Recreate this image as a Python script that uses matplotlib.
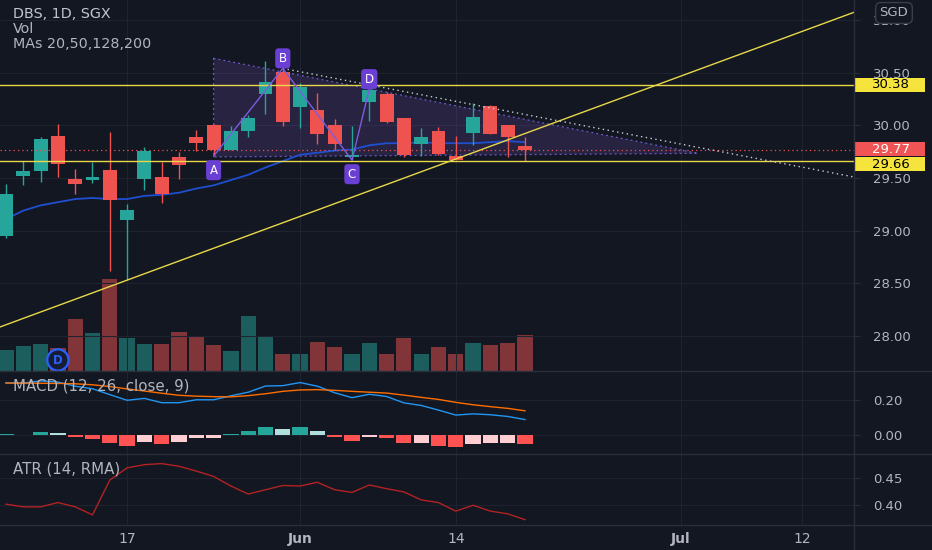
import matplotlib
matplotlib.use("Agg")
import matplotlib.pyplot as plt
from matplotlib.patches import Rectangle, Polygon
from matplotlib.lines import Line2D
from matplotlib.transforms import blended_transform_factory

# ---------------- data (bar index 0..30, daily) ----------------
opens = [28.95, 29.52, 29.57, 29.90, 29.49, 29.48, 29.58, 29.10, 29.49, 29.51,
         29.70, 29.89, 30.00, 29.77, 29.95, 30.30, 30.51, 30.17, 30.15, 30.00,
         29.70, 30.22, 30.30, 30.07, 29.82, 29.95, 29.71, 29.93, 30.18, 30.00, 29.80]
highs = [29.44, 29.66, 29.89, 30.01, 29.59, 29.65, 29.94, 29.25, 29.79, 29.65,
         29.75, 29.96, 30.01, 29.99, 30.10, 30.61, 30.54, 30.40, 30.31, 30.06,
         29.99, 30.34, 30.32, 30.07, 29.97, 29.98, 29.90, 30.21, 30.19, 30.00, 29.89]
lows = [28.93, 29.43, 29.46, 29.51, 29.35, 29.45, 28.62, 28.53, 29.39, 29.26,
        29.49, 29.76, 29.71, 29.77, 29.89, 30.11, 29.99, 29.97, 29.82, 29.77,
        29.67, 30.04, 30.02, 29.70, 29.71, 29.72, 29.67, 29.81, 29.92, 29.70, 29.66]
closes = [29.35, 29.57, 29.87, 29.63, 29.44, 29.51, 29.29, 29.20, 29.76, 29.35,
          29.62, 29.83, 29.77, 29.95, 30.07, 30.41, 30.03, 30.36, 29.92, 29.82,
          29.72, 30.34, 30.03, 29.72, 29.89, 29.73, 29.67, 30.08, 29.92, 29.89, 29.77]
volumes = [1.04, 1.21, 1.34, 1.14, 2.60, 1.90, 4.60, 1.65, 1.34, 1.34,
           1.93, 1.73, 1.29, 0.98, 2.72, 1.73, 0.84, 0.81, 1.43, 1.18,
           0.84, 1.40, 0.84, 1.63, 0.81, 1.16, 0.81, 1.38, 1.29, 1.40, 1.78]
ma20 = [29.11, 29.19, 29.24, 29.27, 29.30, 29.31, 29.30, 29.30, 29.33, 29.34,
        29.36, 29.40, 29.43, 29.48, 29.53, 29.60, 29.66, 29.72, 29.74, 29.76,
        29.77, 29.81, 29.83, 29.83, 29.84, 29.83, 29.83, 29.83, 29.84, 29.85, 29.84]
macd_line = [0.302, 0.300, 0.313, 0.306, 0.282, 0.267, 0.233, 0.200, 0.211, 0.186,
             0.186, 0.203, 0.203, 0.226, 0.247, 0.283, 0.285, 0.303, 0.282, 0.244,
             0.215, 0.235, 0.222, 0.185, 0.170, 0.143, 0.114, 0.121, 0.116, 0.106, 0.088]
signal_line = [0.300, 0.300, 0.299, 0.298, 0.296, 0.290, 0.280, 0.266, 0.254, 0.241,
               0.229, 0.224, 0.221, 0.220, 0.227, 0.238, 0.252, 0.260, 0.262, 0.258,
               0.252, 0.247, 0.242, 0.230, 0.217, 0.205, 0.188, 0.174, 0.163, 0.153, 0.139]
macd_hist = [0.002, 0.000, 0.014, 0.008, -0.014, -0.023, -0.047, -0.066, -0.043, -0.055,
             -0.043, -0.021, -0.018, 0.006, 0.020, 0.045, 0.033, 0.043, 0.020, -0.014,
             -0.039, -0.014, -0.020, -0.049, -0.049, -0.064, -0.074, -0.053, -0.049, -0.047, -0.053]
atr = [0.401, 0.396, 0.396, 0.404, 0.396, 0.381, 0.446, 0.469, 0.475, 0.477,
       0.472, 0.463, 0.453, 0.435, 0.420, 0.428, 0.436, 0.435, 0.442, 0.428,
       0.423, 0.437, 0.430, 0.424, 0.409, 0.404, 0.388, 0.399, 0.388, 0.383, 0.372]

date_tick_pos = [7, 17, 26, 39, 46]
date_tick_labels = ["17", "Jun", "14", "Jul", "12"]
price_ticks = [28.0, 28.5, 29.0, 29.5, 30.0, 30.5, 31.0]
macd_ticks = [0.0, 0.2]
atr_ticks = [0.40, 0.45]
level_lines = [30.38, 29.66]
last_price = 29.77
trend_up = [(7, 28.53), (26, 29.68)]
trend_down = [(16, 30.54), (49, 29.51)]
triangle = [(12, 30.636), (40, 29.734), (12, 29.70)]
abcd_labels = ["A", "B", "C", "D"]
abcd_x = [12, 16, 20, 21]
abcd_y = [29.707, 30.541, 29.669, 30.344]
abcd_side = [-1, 1, -1, 1]
div_bar = 3

# ---------------- style ----------------
BG = "#131722"
GRID = "#1f2330"
SEP = "#2a2e39"
TXT = "#b2b5be"
UP = "#26a69a"
DN = "#ef5350"
YEL = "#e8d84a"
PURP = "#7e57c2"

W, H = 932, 550
plt.rcParams['font.family'] = ['DejaVu Sans']
fig = plt.figure(figsize=(W / 100, H / 100), dpi=100, facecolor=BG)

AXR = 854.0
P_BOT, M_BOT, A_BOT = 370.7, 454.3, 525.0
PX_PER_PRICE = 105.3

def rect(top, bot):
    return [0, 1 - bot / H, AXR / W, (bot - top) / H]

XL = (-0.347, 49.02)

axv = fig.add_axes(rect(0, P_BOT), zorder=0)
ax = fig.add_axes(rect(0, P_BOT), zorder=1)
axm = fig.add_axes(rect(P_BOT, M_BOT), zorder=1)
axa = fig.add_axes(rect(M_BOT, A_BOT), zorder=1)

for a in (axv, ax, axm, axa):
    a.set_xlim(*XL)
    for s in a.spines.values():
        s.set_visible(False)
axv.set_facecolor(BG)
ax.set_facecolor("none")
axm.set_facecolor(BG)
axa.set_facecolor(BG)

# ---------------- volume ----------------
n = len(closes)
xs = list(range(n))
col = [UP if closes[i] >= opens[i] else DN for i in xs]
vcol = [(0.149, 0.651, 0.604, 0.5) if c == UP else (0.937, 0.325, 0.314, 0.5) for c in col]
axv.bar(xs, volumes, width=0.88, color=vcol, linewidth=0)
axv.set_ylim(0, P_BOT / 20.0)
axv.set_xticks([]); axv.set_yticks([])
axv.annotate("D", (div_bar, 0.535), ha="center", va="center", color="#2962ff",
             fontsize=8.5, fontweight="bold",
             bbox=dict(boxstyle="circle,pad=0.35", fc="#161c33", ec="#2962ff", lw=1.6))

# ---------------- price ----------------
ax.set_ylim(27.670, 31.190)
ax.set_xticks(date_tick_pos)
ax.set_xticklabels([])
ax.set_yticks(price_ticks)
ax.yaxis.tick_right()
ax.set_yticklabels([f"{t:.2f}" for t in price_ticks])
ax.tick_params(axis="y", colors=SEP, labelcolor=TXT, labelsize=9.5, length=4, pad=10)
ax.tick_params(axis="x", length=0)
ax.grid(True, color=GRID, lw=0.8)
ax.set_axisbelow(True)

# triangle pattern
ax.add_patch(Polygon(triangle, closed=True, fc=PURP, ec="none", alpha=0.2, zorder=1))
tx = [p[0] for p in triangle] + [triangle[0][0]]
ty = [p[1] for p in triangle] + [triangle[0][1]]
ax.plot(tx, ty, color="#6a5acd", lw=0.9, ls=(0, (1.5, 2.5)), zorder=1.5)

# MA
ax.plot(xs, ma20, color="#1f4fd1", lw=1.3, zorder=2)

# candles
for i in xs:
    ax.vlines(i, lows[i], highs[i], color=col[i], lw=1.0, zorder=3)
    lo = min(opens[i], closes[i])
    h = max(abs(closes[i] - opens[i]), 0.012)
    ax.bar(i, h, bottom=lo, width=0.8, color=col[i], linewidth=0, zorder=3)

# level lines + last price
for lv in level_lines:
    ax.axhline(lv, color=YEL, lw=1.0, zorder=4)
ax.axhline(last_price, color=DN, lw=0.9, ls=(0, (1, 2.5)), zorder=4)

# trend lines
ax.axline(trend_up[0], trend_up[1], color=YEL, lw=1.0, zorder=4)
ax.plot([trend_down[0][0], trend_down[1][0]], [trend_down[0][1], trend_down[1][1]],
        color="#c9ccd4", lw=1.0, ls=(0, (1, 2.5)), zorder=4)

# ABCD pattern
ax.plot(abcd_x, abcd_y, color="#7b5ce0", lw=1.0, zorder=5)
for lab, x, y, s in zip(abcd_labels, abcd_x, abcd_y, abcd_side):
    ax.annotate(lab, (x, y), xytext=(0, 10 if s > 0 else -14), textcoords="offset pixels",
                ha="center", va="center", color="white", fontsize=8.5, zorder=6,
                bbox=dict(boxstyle="round,pad=0.3,rounding_size=0.3", fc="#6a3fd4", ec="none"))

# price axis labels (boxes); TradingView nudges overlapping labels apart
trY = blended_transform_factory(ax.transAxes, ax.transData)
box_w = 71.0 / AXR
box_h = 14.0 / PX_PER_PRICE
for val, fc, tc, nudge_px in [(level_lines[0], "#f5e43c", "black", -0.5),
                              (last_price, "#f05455", "white", -0.5),
                              (level_lines[1], "#f5e43c", "black", 3.0)]:
    yc = val - nudge_px / PX_PER_PRICE
    ax.add_patch(Rectangle((1.0, yc - box_h / 2), box_w, box_h, transform=trY,
                           fc=fc, ec="none", clip_on=False, zorder=10))
    ax.text(1.0 + 18.0 / AXR, yc, f"{val:.2f}", transform=trY, color=tc, fontsize=9.5,
            va="center", ha="left", clip_on=False, zorder=11)

# ---------------- MACD ----------------
axm.set_ylim(-0.114, 0.372)
hcol = []
for i, h in enumerate(macd_hist):
    prev = macd_hist[i - 1] if i > 0 else h
    if h >= 0:
        hcol.append("#26a69a" if h >= prev else "#b2dfdb")
    else:
        hcol.append("#ff5252" if h < prev else "#ffcdd2")
axm.bar(xs, macd_hist, width=0.88, color=hcol, linewidth=0, zorder=2)
axm.plot(xs, macd_line, color="#2196f3", lw=1.0, zorder=3)
axm.plot(xs, signal_line, color="#ff6d00", lw=1.0, zorder=3)
axm.set_xticks(date_tick_pos); axm.set_xticklabels([])
axm.set_yticks(macd_ticks)
axm.yaxis.tick_right()
axm.set_yticklabels([f"{t:.2f}" for t in macd_ticks])
axm.tick_params(axis="y", colors=SEP, labelcolor=TXT, labelsize=9.5, length=4, pad=10)
axm.tick_params(axis="x", length=0)
axm.grid(True, color=GRID, lw=0.8)
axm.set_axisbelow(True)

# ---------------- ATR ----------------
axa.set_ylim(0.362, 0.4944)
axa.plot(xs, atr, color="#b22222", lw=1.0)
axa.set_yticks(atr_ticks)
axa.yaxis.tick_right()
axa.set_yticklabels([f"{t:.2f}" for t in atr_ticks])
axa.tick_params(axis="y", colors=SEP, labelcolor=TXT, labelsize=9.5, length=4, pad=10)
axa.set_xticks(date_tick_pos)
axa.set_xticklabels(date_tick_labels)
axa.tick_params(axis="x", length=0, pad=5, labelcolor=TXT, labelsize=10)
for t in axa.get_xticklabels():
    if t.get_text() in ("Jun", "Jul"):
        t.set_fontweight("bold")
axa.grid(True, color=GRID, lw=0.8)
axa.set_axisbelow(True)

# ---------------- separators ----------------
for yp in (P_BOT, M_BOT, A_BOT):
    fig.add_artist(Line2D([0, 1], [1 - yp / H, 1 - yp / H], transform=fig.transFigure,
                          color=SEP, lw=1.0))
fig.add_artist(Line2D([AXR / W, AXR / W], [0, 1], transform=fig.transFigure, color=SEP, lw=1.0))

# ---------------- texts ----------------
def ftxt(x, y, s, **kw):
    fig.text(x / W, 1 - y / H, s, va="center", ha="left", **kw)

ftxt(13, 14, "DBS, 1D, SGX", color="#c3c6ce", fontsize=10.3)
ftxt(13, 29, "Vol", color=TXT, fontsize=10.3)
ftxt(13, 44, "MAs 20,50,128,200", color=TXT, fontsize=10.3)
ftxt(13, 386, "MACD (12, 26, close, 9)", color=TXT, fontsize=10.8)
ftxt(13, 469, "ATR (14, RMA)", color=TXT, fontsize=10.8)
fig.text(894 / W, 1 - 13 / H, "SGD", ha="center", va="center", color=TXT, fontsize=9.5,
         bbox=dict(boxstyle="round,pad=0.3,rounding_size=0.4", fc=BG, ec="#3a3e4a", lw=1.0),
         zorder=20)

fig.savefig("out.png", dpi=100, facecolor=BG)
